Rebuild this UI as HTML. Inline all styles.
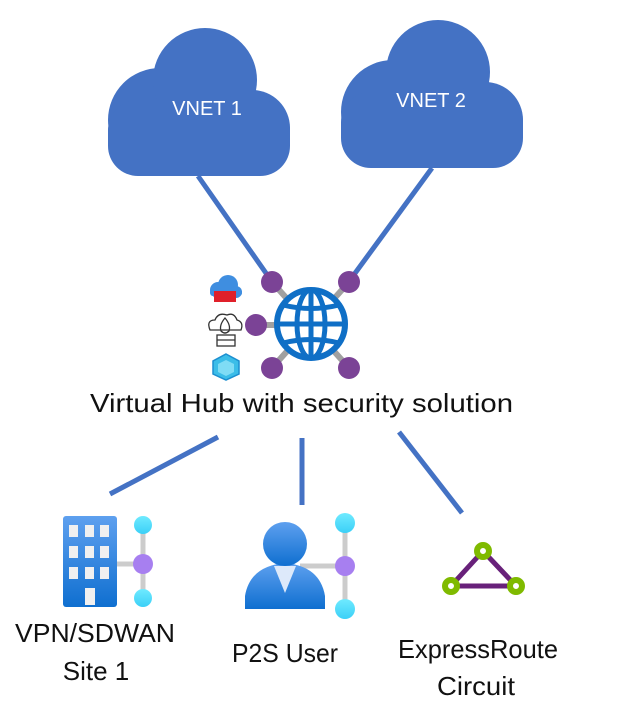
<!DOCTYPE html>
<html><head><meta charset="utf-8"><style>html,body{margin:0;padding:0;background:#fff}svg{display:block}</style></head>
<body>
<svg width="630" height="727" viewBox="0 0 630 727" xmlns="http://www.w3.org/2000/svg">
<defs>
<linearGradient id="bl" x1="0" y1="0" x2="0" y2="1"><stop offset="0" stop-color="#5ea0ef"/><stop offset="1" stop-color="#0f6fd0"/></linearGradient>
<linearGradient id="cy" x1="0" y1="0" x2="0" y2="1"><stop offset="0" stop-color="#6feaff"/><stop offset="1" stop-color="#3bd0f7"/></linearGradient>
<g id="cloud">
<circle cx="160" cy="120" r="52"/>
<circle cx="205" cy="80" r="52"/>
<circle cx="252" cy="128" r="38"/>
<rect x="108" y="100" width="182" height="76" rx="30"/>
</g>
</defs>
<g fill="#4472c4"><use href="#cloud"/><use href="#cloud" transform="translate(233,-8)"/></g>
<text x="207" y="115" font-family="Liberation Sans, sans-serif" font-size="20" fill="#fff" text-anchor="middle">VNET 1</text>
<text x="431" y="107" font-family="Liberation Sans, sans-serif" font-size="20" fill="#fff" text-anchor="middle">VNET 2</text>
<g stroke="#4472c4" stroke-width="5">
<line x1="198" y1="176" x2="268" y2="276"/>
<line x1="432" y1="168" x2="353" y2="276"/>
<line x1="218" y1="437" x2="110" y2="494"/>
<line x1="302" y1="438" x2="302" y2="505"/>
<line x1="399" y1="432" x2="462" y2="513"/>
</g>
<g stroke="#a0a0a0" stroke-width="6">
<line x1="272" y1="282" x2="349" y2="368"/><line x1="349" y1="282" x2="272" y2="368"/><line x1="256" y1="325" x2="300" y2="325"/>
</g>
<circle cx="311" cy="324" r="34" fill="#fff" stroke="#0f6fc6" stroke-width="6"/>
<g fill="none" stroke="#0f6fc6" stroke-width="5">
<ellipse cx="311" cy="324" rx="14" ry="34"/>
<line x1="311" y1="290" x2="311" y2="358"/>
<line x1="277" y1="324" x2="345" y2="324"/>
<path d="M283 305 Q311 312 339 305"/><path d="M283 343 Q311 336 339 343"/>
</g>
<g fill="#7b4396">
<circle cx="272" cy="282" r="11"/><circle cx="349" cy="282" r="11"/><circle cx="256" cy="325" r="11"/><circle cx="272" cy="368" r="11"/><circle cx="349" cy="368" r="11"/>
</g>
<g>
<circle cx="218" cy="290" r="8" fill="#3f8ee0"/><circle cx="228" cy="285" r="10" fill="#3f8ee0"/><circle cx="236" cy="292" r="6" fill="#3f8ee0"/><rect x="210" y="289" width="32" height="7" fill="#3f8ee0" rx="3"/>
<rect x="214" y="291" width="22" height="11" fill="#e0202a"/>
</g>
<g fill="none" stroke="#333" stroke-width="1.3">
<path d="M210 330 Q206 320 215 320 Q218 312 227 315 Q234 312 237 320 Q244 322 241 330 Z"/>
<path d="M225 318 Q219 325 221 331 Q225 335 229 331 Q231 325 225 318Z"/>
<rect x="217" y="335" width="18" height="11"/><line x1="217" y1="340" x2="235" y2="340"/>
</g>
<polygon points="226,354 239,361 239,374 226,380 213,374 213,361" fill="#3bbde8" stroke="#1c8fd0" stroke-width="1.5"/>
<polygon points="226,360 234,364 234,372 226,376 218,372 218,364" fill="#7fdcf5"/>
<text x="90" y="412" textLength="423" lengthAdjust="spacingAndGlyphs" font-family="Liberation Sans, sans-serif" font-size="26" fill="#111">Virtual Hub with security solution</text>
<rect x="63" y="516" width="54" height="91" rx="3" fill="url(#bl)"/>
<g fill="#f0f0f0">
<rect x="69" y="525" width="9" height="12"/><rect x="85" y="525" width="9" height="12"/><rect x="100" y="525" width="9" height="12"/>
<rect x="69" y="546" width="9" height="12"/><rect x="85" y="546" width="9" height="12"/><rect x="100" y="546" width="9" height="12"/>
<rect x="69" y="567" width="9" height="12"/><rect x="85" y="567" width="9" height="12"/><rect x="100" y="567" width="9" height="12"/>
<rect x="85" y="588" width="10" height="17"/>
</g>
<g stroke="#cccccc" stroke-width="5"><line x1="117" y1="564" x2="143" y2="564"/><line x1="143" y1="525" x2="143" y2="598"/></g>
<circle cx="143" cy="525" r="9" fill="url(#cy)"/><circle cx="143" cy="598" r="9" fill="url(#cy)"/><circle cx="143" cy="564" r="10" fill="#a77ff0"/>
<g stroke="#cccccc" stroke-width="5"><line x1="300" y1="566" x2="345" y2="566"/><line x1="345" y1="523" x2="345" y2="609"/></g>
<path d="M245 609 L245 596 Q250 566 285 563 Q320 566 325 596 L325 609 Z" fill="url(#bl)"/>
<polygon points="274,566 296,566 285,593" fill="#dde9fa"/>
<circle cx="285" cy="544" r="22" fill="url(#bl)"/>
<circle cx="345" cy="523" r="10" fill="url(#cy)"/><circle cx="345" cy="609" r="10" fill="url(#cy)"/><circle cx="345" cy="566" r="10" fill="#a77ff0"/>
<polygon points="483,551 451,586 516,586" fill="none" stroke="#68217a" stroke-width="5"/>
<g fill="#fff" stroke="#7fba00" stroke-width="6"><circle cx="483" cy="551" r="6"/><circle cx="451" cy="586" r="6"/><circle cx="516" cy="586" r="6"/></g>
<g font-family="Liberation Sans, sans-serif" font-size="26" fill="#111">
<text x="15" y="642" textLength="160" lengthAdjust="spacingAndGlyphs">VPN/SDWAN</text>
<text x="96" y="680" text-anchor="middle">Site 1</text>
<text x="232" y="662" textLength="106" lengthAdjust="spacingAndGlyphs">P2S User</text>
<text x="398" y="658" textLength="160" lengthAdjust="spacingAndGlyphs">ExpressRoute</text>
<text x="437" y="695" textLength="78" lengthAdjust="spacingAndGlyphs">Circuit</text>
</g>
</svg>
</body></html>
